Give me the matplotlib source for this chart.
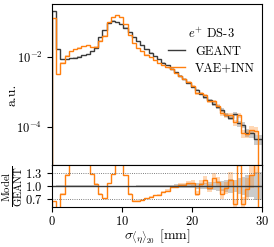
import matplotlib
matplotlib.use("Agg")
import matplotlib.pyplot as plt
import numpy as np

plt.rcParams['font.family'] = 'serif'
plt.rcParams['font.serif'] = ['cmr10']
plt.rcParams['mathtext.fontset'] = 'cm'
plt.rcParams['axes.formatter.use_mathtext'] = True
plt.rcParams['font.size'] = 9

# histogram binning (mm)
bin_edges = np.linspace(0, 30, 51)

# log10 of normalised bin contents
geant_log10 = [-0.71, -1.79, -2.08, -2.07, -2.05, -2.03, -2.00, -1.96, -1.92, -1.84,
               -1.74, -1.45, -1.25, -1.04, -0.97, -1.00, -1.06, -1.17, -1.30, -1.43,
               -1.56, -1.68, -1.79, -1.89, -1.99, -2.08, -2.17, -2.25, -2.35, -2.45,
               -2.55, -2.65, -2.75, -2.86, -2.96, -3.07, -3.16, -3.25, -3.35, -3.44,
               -3.53, -3.66, -3.74, -3.64, -3.91, -3.95, -4.17, -4.19, -4.36, -4.36]
vae_log10 = [-0.90, -2.50, -2.17, -1.97, -1.84, -1.78, -1.74, -1.71, -1.68, -1.73,
             -1.715, -1.54, -1.40, -1.01, -0.86, -0.80, -0.86, -1.07, -1.39, -1.62,
             -1.75, -1.85, -1.94, -2.02, -2.10, -2.18, -2.24, -2.30, -2.36, -2.46,
             -2.54, -2.64, -2.72, -2.83, -3.05, -3.045, -3.10, -3.27, -3.275, -3.40,
             -3.62, -3.68, -3.68, -3.88, -3.68, -4.19, -4.20, -4.09, -4.12, -np.inf]

n_events = 350000  # sets size of the statistical bands

geant = 10.0 ** np.array(geant_log10)
vae = 10.0 ** np.array(vae_log10)
width = np.diff(bin_edges)
geant_err = np.sqrt(geant / (width * n_events))
vae_err = np.sqrt(vae / (width * n_events))

c_geant = '#3a3a3a'
c_vae = '#ff7f0e'

fig = plt.figure(figsize=(2.74, 2.47), dpi=100)
ax = fig.add_axes([0.190, 0.332, 0.766, 0.650])
axr = fig.add_axes([0.190, 0.162, 0.766, 0.170], sharex=ax)

# main panel
ax.stairs(geant + geant_err, bin_edges, baseline=geant - geant_err, fill=True,
          color='#999999', alpha=0.5, lw=0)
ax.stairs(vae + vae_err, bin_edges, baseline=np.maximum(vae - vae_err, 1e-12), fill=True,
          color=c_vae, alpha=0.3, lw=0)
ax.stairs(geant, bin_edges, color=c_geant, lw=1.0, label='GEANT')
ax.stairs(vae, bin_edges, color=c_vae, lw=1.0, label='VAE+INN')
ax.set_yscale('log')
ax.set_ylim(8e-6, 0.31)
ax.set_xlim(0, 30)
ax.set_yticks([1e-4, 1e-2])
ax.minorticks_off()
ax.tick_params(labelbottom=False)
ax.legend(title=r'$e^{+}$ DS-3', frameon=False, loc='upper right',
          bbox_to_anchor=(1.02, 0.93), handlelength=1.4, labelspacing=0.35)

# ratio panel
ratio = vae / geant
r_geant = geant_err / geant
r_vae = vae_err / geant
axr.stairs(1 + r_geant, bin_edges, baseline=1 - r_geant, fill=True,
           color='#999999', alpha=0.5, lw=0)
axr.stairs(ratio + r_vae, bin_edges, baseline=ratio - r_vae, fill=True,
           color=c_vae, alpha=0.3, lw=0)
axr.axhline(1.0, color=c_geant, lw=1.0)
axr.axhline(0.7, color='#555555', lw=0.6, ls=':')
axr.axhline(1.3, color='#555555', lw=0.6, ls=':')
axr.stairs(ratio, bin_edges, color=c_vae, lw=1.0)
axr.set_ylim(0.5, 1.5)
axr.set_yticks([0.7, 1.0, 1.3])
axr.set_xticks([0, 10, 20, 30])
axr.tick_params(axis='x', pad=2)

# axis labels placed on the figure
fig.text(0.044, 0.615, 'a.u.', fontsize=10, rotation=90, ha='center', va='center')
fig.text(0.046, 0.245, r'$\frac{\rm Model}{\rm GEANT}$', fontsize=11,
         rotation=90, ha='center', va='center')
fig.text(0.573, 0.045, r'$\sigma_{\langle\eta\rangle_{20}}$ [mm]', fontsize=10,
         ha='center', va='center')

fig.savefig('out.png', dpi=100)
